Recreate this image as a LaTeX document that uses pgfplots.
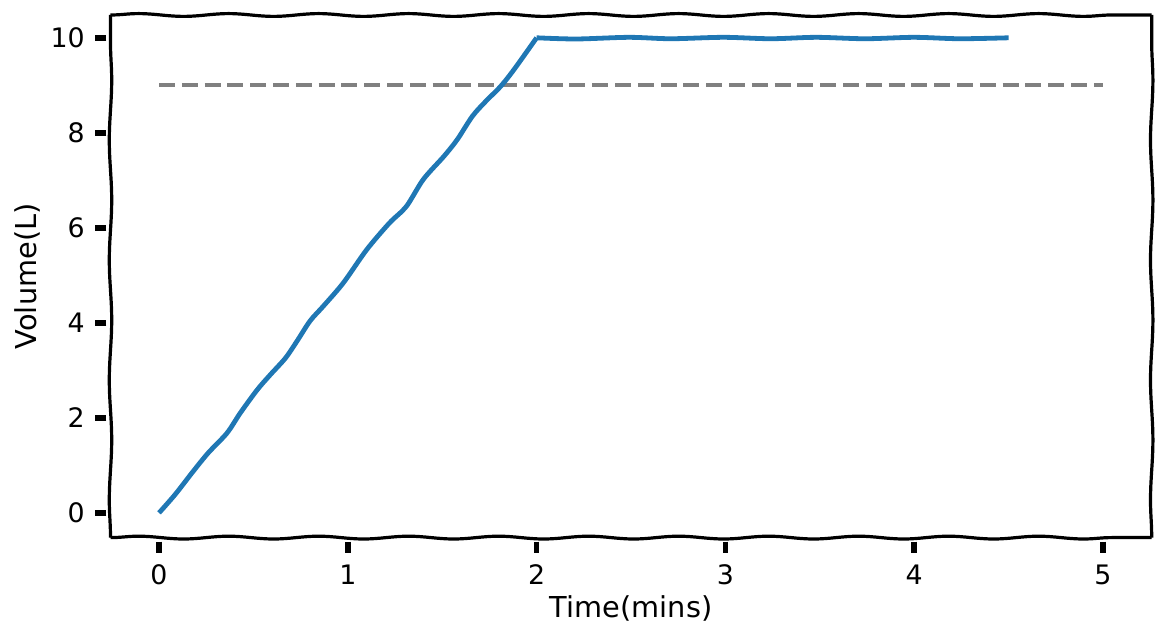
\documentclass[border=0pt]{standalone}
\usepackage{pgfplots}
\pgfplotsset{compat=1.18}
\usepackage{fontspec}
\setmainfont{DejaVu Sans}
\usetikzlibrary{decorations.pathmorphing}
\definecolor{mplblue}{RGB}{31,119,180}
\definecolor{mplgray}{RGB}{128,128,128}
\begin{document}
\fontsize{13.4}{16}\selectfont
\begin{tikzpicture}
\useasboundingbox (-55.25pt,-51.65pt) rectangle (527.75pt,268.8pt);
\begin{axis}[
 scale only axis, width=520.6pt, height=261.3pt,
 xmin=-0.257, xmax=5.258, ymin=-0.52, ymax=10.48,
 xtick pos=bottom, ytick pos=left,
 axis line style={draw=none},
 xtick={0,...,5}, ytick={0,2,...,10},
 tick align=outside, major tick length=6pt,
 tick style={draw=none},
 /pgf/number format/assume math mode=true,
 tick label style={font=\fontsize{13.4}{16}\selectfont},
 xticklabel style={yshift=-3pt},
 yticklabel style={xshift=-2.25pt},
 label style={font=\fontsize{14.4}{17}\selectfont},
 xlabel={Time(mins)}, ylabel={Volume(L)},
 xlabel style={at={(axis description cs:0.5,-0.1347)}, anchor=center},
 ylabel style={at={(axis description cs:-0.0800,0.5)}, anchor=center},
 clip=false,
]
\addplot[mplgray, line width=2.1pt, dash pattern=on 8pt off 3.4pt] coordinates {(0,9) (5,9)};
\addplot[mplblue, line width=2.4pt, smooth, tension=0.5] coordinates {
(0,0) (0.085,0.385) (0.18,0.87) (0.26,1.26) (0.36,1.68) (0.43,2.1) (0.52,2.59)
(0.59,2.91) (0.67,3.26) (0.73,3.61) (0.80,4.04) (0.87,4.35) (0.976,4.84)
(1.10,5.54) (1.22,6.10) (1.31,6.45) (1.40,7.02) (1.51,7.51) (1.58,7.86)
(1.66,8.35) (1.73,8.66) (1.81,8.98) (1.88,9.33) (2.0,10.0)};
\addplot[mplblue, line width=2.4pt, smooth, tension=0.5] coordinates {
(2.0,10.0) (2.21,9.975) (2.49,10.01) (2.71,9.98) (2.99,10.01) (3.24,9.98)
(3.48,10.01) (3.74,9.98) (4.0,10.01) (4.24,9.98) (4.5,10.0)};
\pgfplotsinvokeforeach{0,1,2,3,4,5}{
 \draw[line width=2.8pt, black] (axis cs:#1,-0.52) ++(0pt,-2pt) -- ++(0pt,-5.5pt);
}
\pgfplotsinvokeforeach{0,2,4,6,8,10}{
 \draw[line width=2.8pt, black] (axis cs:-0.257,#1) ++(-2pt,0pt) -- ++(-5.5pt,0pt);
}
\draw[line width=1.6pt, decorate, decoration={snake, amplitude=0.7pt, segment length=45pt}]
 (rel axis cs:0,0) -- (rel axis cs:1,0);
\draw[line width=1.6pt, decorate, decoration={snake, amplitude=0.7pt, segment length=45pt}]
 (rel axis cs:0,1) -- (rel axis cs:1,1);
\draw[line width=1.6pt, decorate, decoration={snake, amplitude=0.6pt, segment length=60pt}]
 (rel axis cs:0,0) -- (rel axis cs:0,1);
\draw[line width=1.6pt, decorate, decoration={snake, amplitude=0.6pt, segment length=60pt}]
 (rel axis cs:1,0) -- (rel axis cs:1,1);
\end{axis}
\end{tikzpicture}
\end{document}
